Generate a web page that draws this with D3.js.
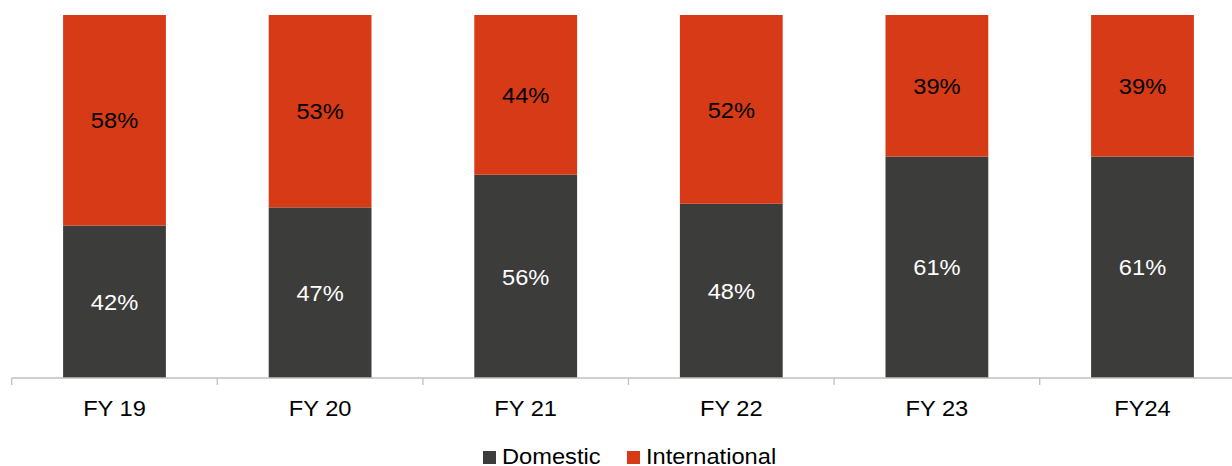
<!DOCTYPE html>
<html>
<head>
<meta charset="utf-8">
<script src="https://cdn.jsdelivr.net/npm/d3@7"></script>
<style>
  body { margin: 0; background: #fff; }
  svg { display: block; font-family: "Liberation Sans", Arial, sans-serif; }
</style>
</head>
<body>
<div id="chart"></div>
<script>
// data
const categories = ["FY 19", "FY 20", "FY 21", "FY 22", "FY 23", "FY24"];
const domestic = [42, 47, 56, 48, 61, 61];
const international = [58, 53, 44, 52, 39, 39];
const seriesNames = ["Domestic", "International"];
const colors = ["#3c3c3b", "#d63a16"];

const width = 1232, height = 466;
const fontSize = 21.5, stretch = 1.1; // the reference text is a little wide

const svg = d3.select("#chart").append("svg")
  .attr("width", width)
  .attr("height", height);

const x = d3.scaleBand().domain(categories).range([11.7, 1245.3]).paddingInner(0.5).paddingOuter(0.25);
const y = d3.scaleLinear().domain([0, 100]).range([378, 15]);

const rows = categories.map((c, i) => ({cat: c, Domestic: domestic[i], International: international[i]}));
const stack = d3.stack().keys(seriesNames)(rows);

// places a text at (tx, ty) stretched horizontally
function place(tx, ty) {
  return "translate(" + tx + "," + ty + ") scale(" + stretch + ",1)";
}

const layers = svg.selectAll(".layer")
  .data(stack)
  .enter().append("g")
  .attr("fill", (d, i) => colors[i]);

layers.selectAll("rect")
  .data(d => d)
  .enter().append("rect")
  .attr("x", d => x(d.data.cat))
  .attr("y", d => y(d[1]))
  .attr("width", x.bandwidth())
  .attr("height", d => y(d[0]) - y(d[1]));

layers.selectAll("text")
  .data((d, i) => d.map(v => ({v: v, key: d.key, idx: i})))
  .enter().append("text")
  .attr("transform", d => place(x(d.v.data.cat) + x.bandwidth() / 2, (y(d.v[0]) + y(d.v[1])) / 2))
  .attr("dy", "0.38em")
  .attr("text-anchor", "middle")
  .attr("font-size", fontSize)
  .attr("fill", d => d.idx === 0 ? "#ffffff" : "#000000")
  .text(d => d.v.data[d.key] + "%");

// axis
const axis = svg.append("g")
  .attr("transform", "translate(0,378)");
axis.append("line")
  .attr("x1", 11.7).attr("x2", 1245.3)
  .attr("stroke", "#bfbfbf").attr("stroke-width", 1.3);
const step = x.step();
axis.selectAll(".tick")
  .data(d3.range(categories.length + 1))
  .enter().append("line")
  .attr("x1", i => 11.7 + i * step)
  .attr("x2", i => 11.7 + i * step)
  .attr("y1", 0).attr("y2", 7)
  .attr("stroke", "#bfbfbf").attr("stroke-width", 1.3);
axis.selectAll("text")
  .data(categories)
  .enter().append("text")
  .attr("transform", d => place(x(d) + x.bandwidth() / 2, 37.5))
  .attr("text-anchor", "middle")
  .attr("font-size", fontSize)
  .attr("fill", "#000")
  .text(d => d);

// legend
const legendX = [483, 627];
const legend = svg.selectAll(".legend")
  .data(seriesNames)
  .enter().append("g")
  .attr("transform", (d, i) => "translate(" + legendX[i] + ",0)");
legend.append("rect")
  .attr("x", 0).attr("y", 451)
  .attr("width", 13).attr("height", 13)
  .attr("fill", (d, i) => colors[i]);
legend.append("text")
  .attr("transform", place(19, 464))
  .attr("font-size", fontSize)
  .attr("fill", "#000")
  .text(d => d);
</script>
</body>
</html>
